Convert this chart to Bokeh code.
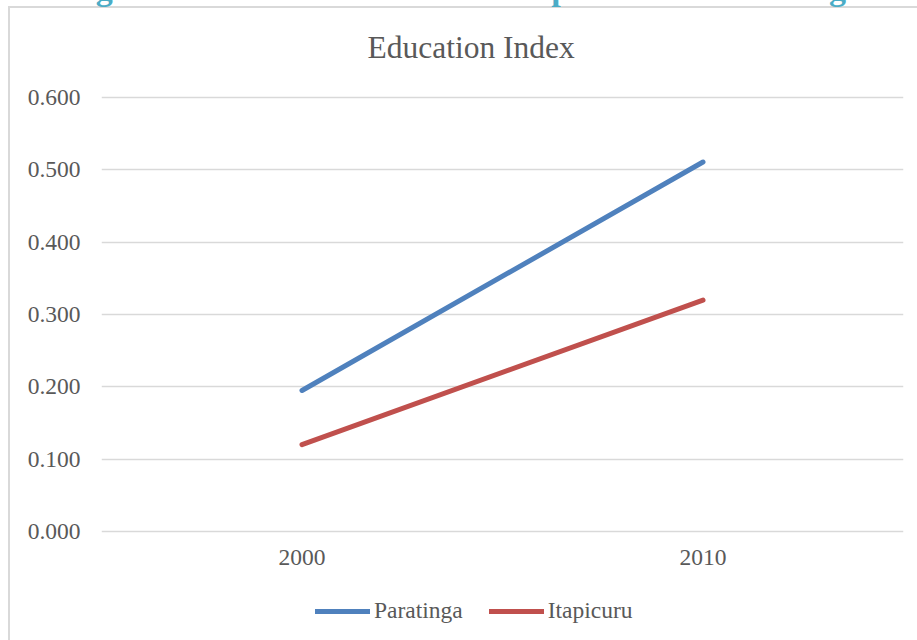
from bokeh.plotting import figure
from bokeh.models import (FactorRange, Range1d, FixedTicker, NumeralTickFormatter,
                          Legend, LegendItem, Title)
from bokeh.embed import file_html
from bokeh.resources import INLINE

# Education index (IDHM-E) by census year
years = ["2000", "2010"]
paratinga = [0.195, 0.511]
itapicuru = [0.120, 0.320]
y_ticks = [0.0, 0.1, 0.2, 0.3, 0.4, 0.5, 0.6]

FONT = "Liberation Serif"
TEXT_GRAY = "#595959"
GRID_GRAY = "#d9d9d9"
BLUE = "#4f81bd"
RED = "#c0504d"

# the page starts part-way down the document, so the figure is lifted by SHIFT px
SHIFT = 70
FRAME_TOP = 64

# the plot frame runs from just under the title down to the bottom edge,
# so the legend can sit inside it
p = figure(width=917, height=640 + SHIFT, x_range=FactorRange(factors=years),
           y_range=Range1d(-0.1508, 0.6459), output_backend="svg",
           toolbar_location=None, min_border_left=101, min_border_right=14,
           min_border_top=FRAME_TOP + SHIFT, min_border_bottom=0)
p.outline_line_color = None
p.background_fill_color = "white"
p.border_fill_color = None
# chart-area border (left and top edges fall inside the page)
p.styles = {
    "transform": f"translateY(-{SHIFT}px)",
    "background": (f"linear-gradient({GRID_GRAY}, {GRID_GRAY}) 8px {7 + SHIFT}px / 2px 100% no-repeat, "
                   f"linear-gradient({GRID_GRAY}, {GRID_GRAY}) 8px {6 + SHIFT}px / 100% 2px no-repeat, "
                   "#ffffff"),
}

# axes: text only, the zero gridline acts as baseline
p.yaxis.ticker = FixedTicker(ticks=y_ticks)
p.yaxis.formatter = NumeralTickFormatter(format="0.000")
p.yaxis.axis_line_color = None
p.yaxis.major_tick_line_color = None
p.yaxis.major_tick_out = 0
p.yaxis.minor_tick_line_color = None
p.yaxis.minor_tick_out = 0
p.yaxis.major_label_standoff = 21
p.yaxis.major_label_text_font = FONT
p.yaxis.major_label_text_font_size = "23.5px"
p.yaxis.major_label_text_color = TEXT_GRAY

# category labels hang from the zero line
p.xaxis.fixed_location = 0
p.xaxis.axis_line_color = None
p.xaxis.major_tick_line_color = None
p.xaxis.major_tick_out = 0
p.xaxis.major_label_standoff = 19
p.xaxis.major_label_text_font = FONT
p.xaxis.major_label_text_font_size = "23.5px"
p.xaxis.major_label_text_color = TEXT_GRAY

p.xgrid.grid_line_color = None
p.ygrid.ticker = FixedTicker(ticks=y_ticks)
p.ygrid.grid_line_color = GRID_GRAY
p.ygrid.grid_line_width = 1.5

# series
r_par = p.line(years, paratinga, line_color=BLUE, line_width=5, line_cap="round")
r_ita = p.line(years, itapicuru, line_color=RED, line_width=5, line_cap="round")

legend = Legend(items=[LegendItem(label="Paratinga", renderers=[r_par]),
                       LegendItem(label="Itapicuru", renderers=[r_ita])],
                orientation="horizontal", location=(214, 16),
                glyph_width=55, glyph_height=24, label_standoff=4, spacing=26,
                padding=0, margin=0, border_line_color=None,
                background_fill_alpha=0, label_text_font=FONT,
                label_text_font_size="23.5px", label_text_color=TEXT_GRAY)
p.add_layout(legend, "center")

# figure caption (outermost title)
p.title.text = "Figure 5a: Education Index of Itapicuru and Paratinga"
p.title.align = "left"
p.title.offset = -36
p.title.standoff = 42
p.title.text_font = FONT
p.title.text_font_style = "bold"
p.title.text_font_size = "34px"
p.title.text_color = "#4bacc6"

# chart title, sitting directly on the frame
p.add_layout(Title(text="Education Index", align="left", offset=266, standoff=0,
                   text_font=FONT, text_font_style="normal", text_font_size="31.5px",
                   text_color=TEXT_GRAY), "above")

open("out.html", "w").write(file_html(p, INLINE))
